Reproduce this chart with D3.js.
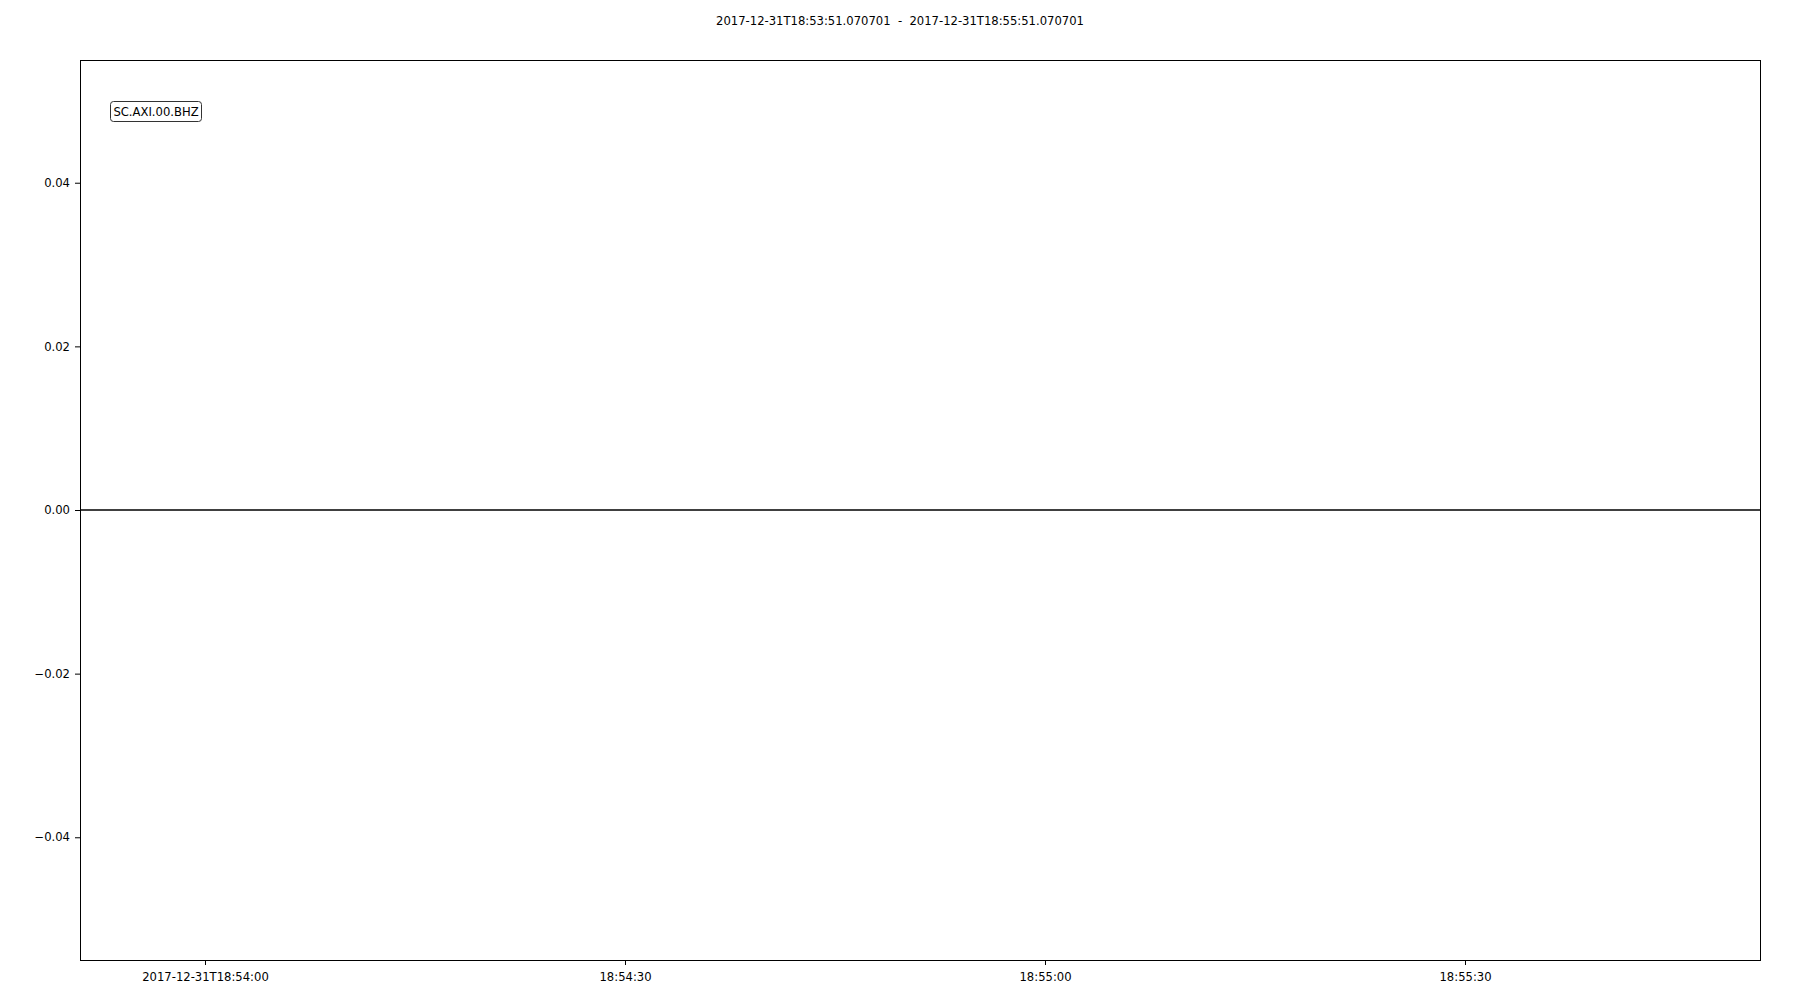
<!DOCTYPE html>
<html><head><meta charset="utf-8">
<script src="https://cdn.jsdelivr.net/npm/d3@7"></script>
<style>body{margin:0;background:#fff}svg{display:block}text{font-family:"DejaVu Sans";fill:#000}</style>
</head><body><svg id="c" width="1800" height="1000"></svg>
<script>
const title = "2017-12-31T18:53:51.070701  -  2017-12-31T18:55:51.070701";
const traceLabel = "SC.AXI.00.BHZ";
const startTime = "2017-12-31T18:53:51.070701";
const endTime = "2017-12-31T18:55:51.070701";
const timeOffsets = [0, 120]; // seconds from start
const amplitudes = [0, 0];
const yTicks = [-0.04, -0.02, 0.00, 0.02, 0.04];
const xTickTimes = ["2017-12-31T18:54:00", "2017-12-31T18:54:30", "2017-12-31T18:55:00", "2017-12-31T18:55:30"];
const xTickLabels = ["2017-12-31T18:54:00", "18:54:30", "18:55:00", "18:55:30"];

const FS = "11.6px";
const svg = d3.select("#c");
const m = {l:80, r:1760, t:60, b:960};
const toMs = s => { const p = s.split(/[-T:]/); return Date.UTC(+p[0], +p[1]-1, +p[2], +p[3], +p[4], 0) + parseFloat(p[5])*1000; };
const x = d3.scaleLinear().domain([toMs(startTime), toMs(endTime)]).range([m.l, m.r]);
const y = d3.scaleLinear().domain([-0.055, 0.055]).range([m.b, m.t]);

svg.append("text").attr("x", 900).attr("y", 25).attr("text-anchor","middle")
  .style("font-size",FS).style("white-space","pre").attr("xml:space","preserve").text(title);

const ga = svg.append("g").attr("transform", `translate(${m.l},0)`)
  .call(d3.axisLeft(y).tickValues(yTicks).tickSize(5).tickPadding(5).tickFormat(d => d3.format(".2f")(d).replace("-", "\u2212")));
ga.select(".domain").remove();
ga.selectAll("text").style("font-size",FS).style("font-family","DejaVu Sans");
const gb = svg.append("g").attr("transform", `translate(0,${m.b})`)
  .call(d3.axisBottom(x).tickValues(xTickTimes.map(toMs)).tickSize(5).tickPadding(8).tickFormat((d,i) => xTickLabels[i]));
gb.select(".domain").remove();
gb.selectAll("text").style("font-size",FS).style("font-family","DejaVu Sans");

const st = toMs(startTime);
svg.append("path").datum(timeOffsets.map((t,i)=>[st + t*1000, amplitudes[i]]))
  .attr("d", d3.line().x(d=>x(d[0])).y(d=>y(d[1])))
  .attr("fill","none").attr("stroke","#000").attr("stroke-width",1.4);

svg.append("rect").attr("x", m.l+0.5).attr("y", m.t+0.5).attr("width", m.r-m.l).attr("height", m.b-m.t)
  .attr("fill","none").attr("stroke","#000").attr("stroke-width",1);

const lab = svg.append("g");
lab.append("rect").attr("x",110.5).attr("y",101.5).attr("width",91).attr("height",20).attr("rx",3)
  .attr("fill","#fff").attr("stroke","#333").attr("stroke-width",1);
lab.append("text").attr("x",156).attr("y",115.5).attr("text-anchor","middle").style("font-size",FS).text(traceLabel);
</script></body></html>
